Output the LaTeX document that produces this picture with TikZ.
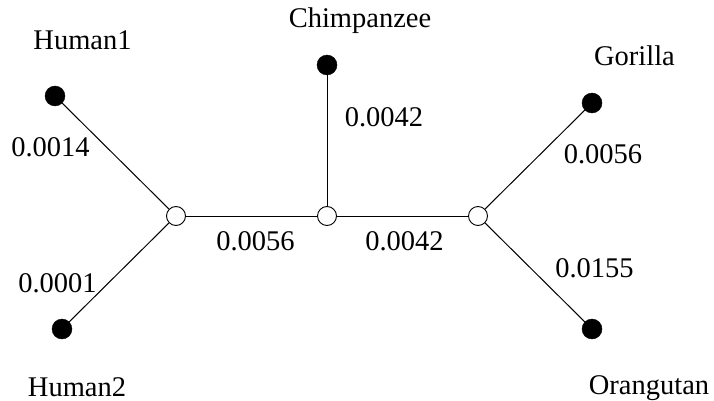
\documentclass[tikz,border=0pt]{standalone}
\usepackage{fontspec}
\setmainfont{Liberation Serif}
\begin{document}
\begin{tikzpicture}[x=1pt,y=-1pt,
  leaf/.style={circle,fill=black,draw=black,inner sep=0pt,minimum size=20pt},
  inner/.style={circle,fill=white,draw=black,line width=0.9pt,inner sep=0pt,minimum size=19pt},
  lbl/.style={anchor=base,inner sep=0pt,font=\fontsize{28.5}{30}\selectfont},
  edge/.style={draw=black,line width=1pt}]
\useasboundingbox (0,0) rectangle (714,401);
% internal nodes
\node[inner] (a) at (176,216) {};
\node[inner] (b) at (327,216) {};
\node[inner] (c) at (478,216) {};
% leaves
\node[leaf] (h1) at (55,96) {};
\node[leaf] (h2) at (62,329) {};
\node[leaf] (ch) at (327,65) {};
\node[leaf] (go) at (592,103) {};
\node[leaf] (or) at (592,329) {};
% edges
\draw[edge] (h1) -- (a);
\draw[edge] (h2) -- (a);
\draw[edge] (ch) -- (b);
\draw[edge] (a) -- (b);
\draw[edge] (b) -- (c);
\draw[edge] (c) -- (go);
\draw[edge] (c) -- (or);
% taxon labels
\node[lbl] (t1) at (82.5,50) {Human1};
\node[lbl] (t2) at (77,396) {Human2};
\node[lbl] (t3) at (360,28) {Chimpanzee};
\node[lbl] (t4) at (634.5,66) {Gorilla};
\node[lbl] (t5) at (649,394) {Orangutan};
% branch lengths
\node[lbl] (l1) at (50.5,156) {0.0014};
\node[lbl] (l2) at (57.5,292) {0.0001};
\node[lbl] (l3) at (384,126) {0.0042};
\node[lbl] (l4) at (255.5,250) {0.0056};
\node[lbl] (l5) at (404.5,250) {0.0042};
\node[lbl] (l6) at (603,163) {0.0056};
\node[lbl] (l7) at (594.5,277) {0.0155};
\end{tikzpicture}
\end{document}
